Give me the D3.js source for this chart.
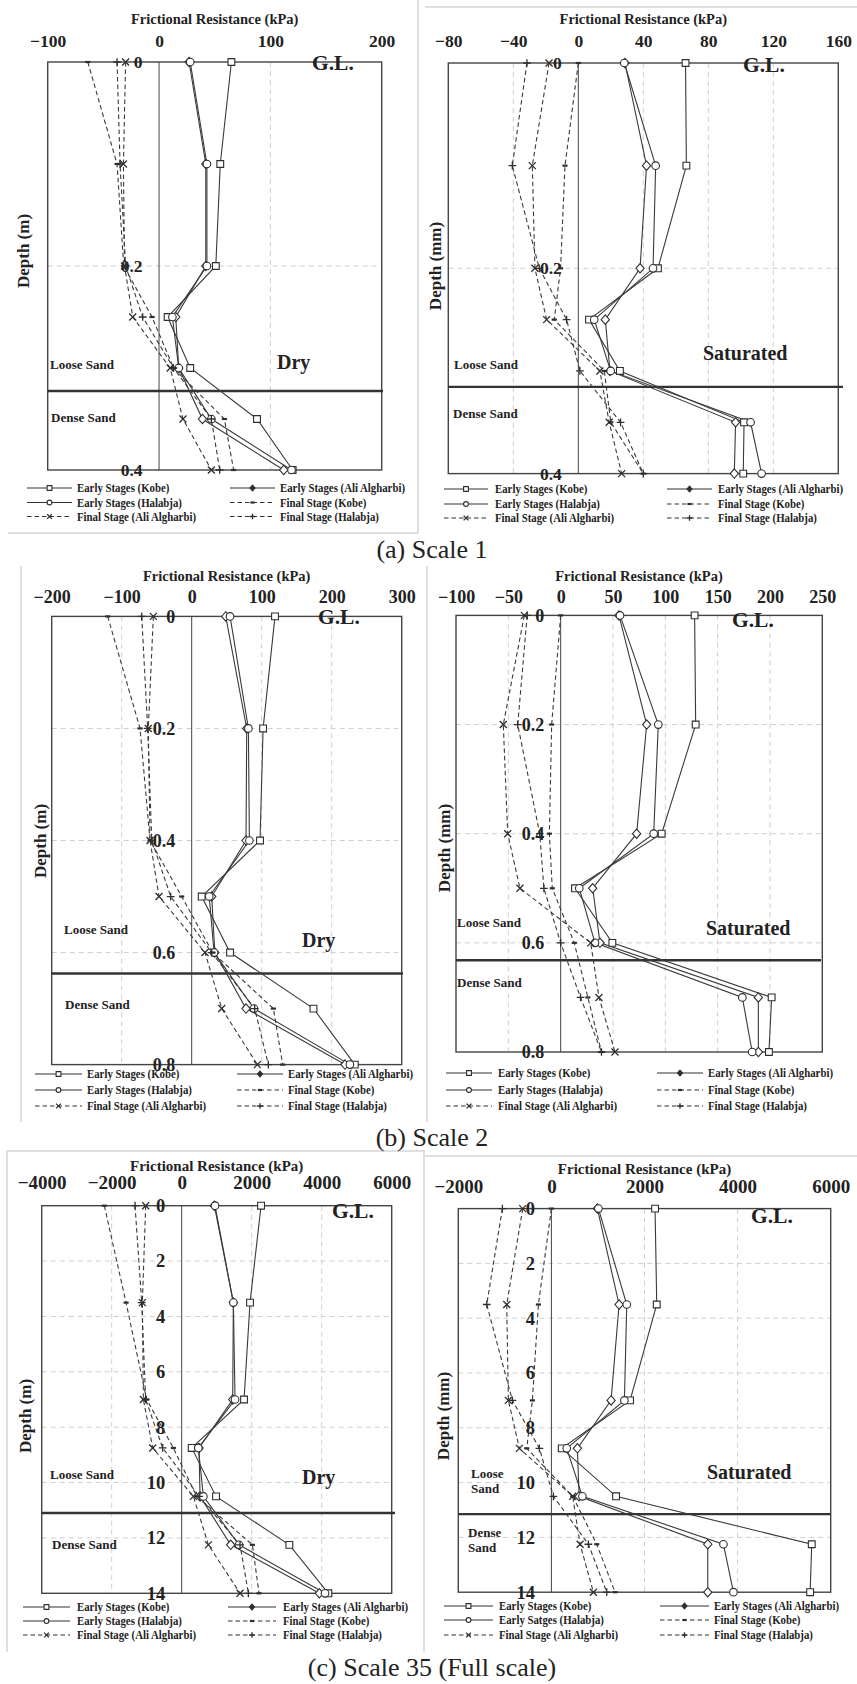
<!DOCTYPE html>
<html>
<head>
<meta charset="utf-8">
<script src="https://cdn.jsdelivr.net/npm/d3@7"></script>
<style>
  body { margin: 0; background: #fff; }
  svg { display: block; }
  text { font-family: "Liberation Serif", "Times New Roman", serif; fill: #222; }
</style>
</head>
<body>
<svg id="fig" width="857" height="1684"></svg>
<script>
// ---- depth levels (m) at which the friction was measured ----
const depthsScale1 = [0, 0.1, 0.2, 0.25, 0.3, 0.35, 0.4];
const depthsScale2 = [0, 0.2, 0.4, 0.5, 0.6, 0.7, 0.8];
const depthsScale35 = [0, 3.5, 7, 8.75, 10.5, 12.25, 14];

// ---- axis ticks ----
const xTicksDryS1 = [-100, 0, 100, 200];
const xTicksSatS1 = [-80, -40, 0, 40, 80, 120, 160];
const xTicksDryS2 = [-200, -100, 0, 100, 200, 300];
const xTicksSatS2 = [-100, -50, 0, 50, 100, 150, 200, 250];
const xTicksDryS35 = [-4000, -2000, 0, 2000, 4000, 6000];
const xTicksSatS35 = [-2000, 0, 2000, 4000, 6000];
const yTicksS1 = [0, 0.2, 0.4];
const yTicksS2 = [0, 0.2, 0.4, 0.6, 0.8];
const yTicksS35 = [0, 2, 4, 6, 8, 10, 12, 14];

// ---- frictional resistance (kPa), Scale 1, dry ----
const dryS1EarlyKobe = [65, 55, 51, 7.7, 28, 88, 120];
const dryS1EarlyAli = [27, 42, 42, 15, 17.7, 39, 112];
const dryS1EarlyHalabja = [28, 43, 43, 12, 17.7, 47, 119];
const dryS1FinalKobe = [-64, -37.7, -31.7, -6.3, 13, 58.7, 67];
const dryS1FinalAli = [-30, -32, -31, -23.6, 10, 21.5, 47];
const dryS1FinalHalabja = [-37.7, -35, -30, -14.7, 13, 47, 54.5];

// ---- Scale 1, saturated ----
const satS1EarlyKobe = [66, 66.5, 49, 6.6, 25.6, 102, 101.5];
const satS1EarlyAli = [28.7, 42, 38, 16.6, 19.5, 96.8, 96];
const satS1EarlyHalabja = [28.3, 47.6, 46, 9.8, 19.9, 106, 112.8];
const satS1FinalKobe = [0, -8.2, -10.9, -14.8, 16, 20, 40];
const satS1FinalAli = [-18, -28.3, -26.7, -19.5, 13.3, 19, 26.7];
const satS1FinalHalabja = [-31.6, -40.6, -24, -7.2, 1, 26, 40];

// ---- Scale 2, dry ----
const dryS2EarlyKobe = [119, 102, 97.6, 14.3, 54.8, 174, 233];
const dryS2EarlyAli = [48.6, 78.6, 77.6, 28.6, 33, 77.6, 219];
const dryS2EarlyHalabja = [54.8, 81, 82.4, 25, 32, 89, 226];
const dryS2FinalKobe = [-120, -73.8, -59.5, -14.3, 30, 116.7, 130];
const dryS2FinalAli = [-54.8, -62, -59.5, -46.7, 19, 42.9, 93.8];
const dryS2FinalHalabja = [-71.4, -62.9, -57, -30, 28.6, 90, 109.5];

// ---- Scale 2, saturated ----
const satS2EarlyKobe = [128, 129, 96.5, 13.7, 49.4, 201.6, 199];
const satS2EarlyAli = [55.7, 82.2, 72.6, 30.6, 37.6, 188.9, 188.9];
const satS2EarlyHalabja = [56.7, 93.3, 88.9, 17.8, 32.8, 173.6, 183];
const satS2FinalKobe = [0, -8.6, -10.8, -8, 13, 26, 39];
const satS2FinalAli = [-34.7, -54.8, -50.6, -38.9, 28.7, 36.6, 51.9];
const satS2FinalHalabja = [-32, -41, -20, -16, 0, 19, 39];

// ---- Scale 35 (full scale), dry ----
const dryS35EarlyKobe = [2267, 1952, 1781, 286, 981, 3076, 4190];
const dryS35EarlyAli = [933, 1476, 1457, 495, 524, 1400, 3933];
const dryS35EarlyHalabja = [952, 1476, 1524, 476, 619, 1638, 4095];
const dryS35FinalKobe = [-2210, -1590, -1000, -238, 430, 2019, 2210];
const dryS35FinalAli = [-1029, -1124, -1095, -829, 333, 762, 1667];
const dryS35FinalHalabja = [-1333, -1143, -1029, -543, 500, 1667, 1905];

// ---- Scale 35 (full scale), saturated ----
const satS35EarlyKobe = [2227, 2263, 1690, 222, 1389, 5593, 5558];
const satS35EarlyAli = [988, 1454, 1282, 559, 594, 3359, 3359];
const satS35EarlyHalabja = [1010, 1619, 1568, 329, 666, 3696, 3910];
const satS35FinalKobe = [0, -279, -408, -530, 458, 974, 1368];
const satS35FinalAli = [-616, -960, -924, -688, 458, 616, 902];
const satS35FinalHalabja = [-1053, -1389, -838, -258, 43, 795, 1189];

// loose/dense sand interface depth per panel
const interfaceDepths = [0.3225, 0.3155, 0.6374, 0.632, 11.1, 11.15];

const legendLabels = [
  "Early Stages (Kobe)", "Early Stages (Ali Algharbi)",
  "Early Stages (Halabja)", "Final Stage (Kobe)",
  "Final Stage (Ali Algharbi)", "Final Stage (Halabja)"
];
const legendLabelsAlt = [
  "Early Stages (Kobe)", "Early Stages (Ali Algharbi)",
  "Early Satges (Halabja)", "Final Stage (Kobe)",
  "Final Stage (Ali Algharbi)", "Final Stage (Halabja)"
];
const captions = ["(a) Scale 1", "(b) Scale 2", "(c) Scale 35 (Full scale)"];

// series styling, in legend order
const seriesStyle = [
  { marker: "square", dashed: false },
  { marker: "diamond", dashed: false },
  { marker: "circle", dashed: false },
  { marker: "dash", dashed: true },
  { marker: "cross", dashed: true },
  { marker: "plus", dashed: true }
];

const INK = "#2e2e2e";
const svg = d3.select("#fig");

function markerPath(type, s) {
  switch (type) {
    case "square": return `M${-s},${-s}H${s}V${s}H${-s}Z`;
    case "diamond": return `M0,${-s * 1.3}L${s * 1.15},0L0,${s * 1.3}L${-s * 1.15},0Z`;
    case "circle": return `M${-s},0a${s},${s} 0 1,0 ${2 * s},0a${s},${s} 0 1,0 ${-2 * s},0`;
    case "cross": return `M${-s},${-s}L${s},${s}M${-s},${s}L${s},${-s}`;
    case "plus": return `M${-s * 1.1},0H${s * 1.1}M0,${-s * 1.1}V${s * 1.1}`;
    case "dash": return `M${-s * 0.8},0H${s * 0.8}`;
  }
}

function addMarker(g, type, cx, cy, s, filled) {
  const closed = type === "square" || type === "diamond" || type === "circle";
  g.append("path")
    .attr("transform", `translate(${cx},${cy})`)
    .attr("d", markerPath(type, s))
    .attr("fill", closed ? (filled ? INK : "#fff") : "none")
    .attr("stroke", INK)
    .attr("stroke-width", type === "dash" ? 2.2 : (closed ? 1.1 : 1.3));
}

function label(g, txt, x, y, size, opts = {}) {
  return g.append("text")
    .attr("x", x).attr("y", y).attr("dy", "0.35em")
    .attr("font-size", size)
    .attr("font-weight", opts.weight || "bold")
    .attr("text-anchor", opts.anchor || "start")
    .text(txt);
}

const panels = [
  {
    depths: depthsScale1, yMax: 0.4, xDomain: [-100, 200], xTicks: xTicksDryS1, yTicks: yTicksS1,
    series: [dryS1EarlyKobe, dryS1EarlyAli, dryS1EarlyHalabja, dryS1FinalKobe, dryS1FinalAli, dryS1FinalHalabja],
    box: { l: 47.7, r: 381.7, t: 62, b: 470 }, gridX: [100], gridY: [0.2], bx2: 383,
    title: [214.7, 19], tickFont: 17.5, tickPad: 15, yFont: 17.5,
    depthTitle: ["Depth (m)", 23, 251], gl: [312, 62], cond: ["Dry", 277, 362],
    loose: [["Loose Sand"], 50, 364], dense: [["Dense Sand"], 51, 417],
    legend: { rows: [488, 502.5, 516.5], c1: [27, 72, 77], c2: [230, 275, 280] }, labels: legendLabels
  },
  {
    depths: depthsScale1, yMax: 0.4, xDomain: [-80, 160], xTicks: xTicksSatS1, yTicks: yTicksS1,
    series: [satS1EarlyKobe, satS1EarlyAli, satS1EarlyHalabja, satS1FinalKobe, satS1FinalAli, satS1FinalHalabja],
    box: { l: 448.3, r: 838.3, t: 63, b: 473.6 }, gridX: [-40, 40, 80, 120], gridY: [0.2], bx2: 843,
    title: [643.3, 19], tickFont: 17.5, tickPad: 16, yFont: 17.5,
    depthTitle: ["Depth (mm)", 435, 266], gl: [743, 64], cond: ["Saturated", 703, 353],
    loose: [["Loose Sand"], 454, 364], dense: [["Dense Sand"], 453, 413],
    legend: { rows: [489, 504, 518], c1: [444, 488, 495], c2: [667, 712, 718] }, labels: legendLabels
  },
  {
    depths: depthsScale2, yMax: 0.8, xDomain: [-200, 300], xTicks: xTicksDryS2, yTicks: yTicksS2,
    series: [dryS2EarlyKobe, dryS2EarlyAli, dryS2EarlyHalabja, dryS2FinalKobe, dryS2FinalAli, dryS2FinalHalabja],
    box: { l: 51.7, r: 401.7, t: 616.4, b: 1064.6 }, gridX: [-100, 100, 200], gridY: [0.2, 0.4, 0.6], bx2: 403,
    title: [226.7, 576], tickFont: 18, tickPad: 13.4, yFont: 18,
    depthTitle: ["Depth (m)", 40, 841], gl: [318, 616], cond: ["Dry", 302, 940],
    loose: [["Loose Sand"], 64, 929], dense: [["Dense Sand"], 65, 1004],
    legend: { rows: [1074, 1090, 1106], c1: [35, 82, 87], c2: [237, 283, 288] }, labels: legendLabels
  },
  {
    depths: depthsScale2, yMax: 0.8, xDomain: [-100, 250], xTicks: xTicksSatS2, yTicks: yTicksS2,
    series: [satS2EarlyKobe, satS2EarlyAli, satS2EarlyHalabja, satS2FinalKobe, satS2FinalAli, satS2FinalHalabja],
    box: { l: 456, r: 822.3, t: 615.4, b: 1052 }, gridX: [-50, 50, 100, 150, 200], gridY: [0.2, 0.4, 0.6], bx2: 821,
    title: [639, 576], tickFont: 18, tickPad: 12.4, yFont: 18,
    depthTitle: ["Depth (mm)", 444, 848], gl: [732, 619], cond: ["Saturated", 706, 928],
    loose: [["Loose Sand"], 457, 922], dense: [["Dense Sand"], 457, 982],
    legend: { rows: [1073, 1090, 1106], c1: [446, 492, 498], c2: [657, 703, 708] }, labels: legendLabels
  },
  {
    depths: depthsScale35, yMax: 14, xDomain: [-4000, 6000], xTicks: xTicksDryS35, yTicks: yTicksS35,
    series: [dryS35EarlyKobe, dryS35EarlyAli, dryS35EarlyHalabja, dryS35FinalKobe, dryS35FinalAli, dryS35FinalHalabja],
    box: { l: 41.7, r: 391.7, t: 1205.7, b: 1593.3 }, gridX: [-2000, 2000, 4000], gridY: [2, 4, 6, 8, 10, 12], bx2: 395,
    title: [216.7, 1166], tickFont: 19, tickPad: 17, yFont: 18.5,
    depthTitle: ["Depth (m)", 25, 1416], gl: [332, 1210], cond: ["Dry", 302, 1477],
    loose: [["Loose Sand"], 50, 1474], dense: [["Dense Sand"], 52, 1544],
    legend: { rows: [1607, 1621, 1635], c1: [23, 70, 77], c2: [228, 276, 283] }, labels: legendLabels
  },
  {
    depths: depthsScale35, yMax: 14, xDomain: [-2000, 6000], xTicks: xTicksSatS35, yTicks: yTicksS35,
    series: [satS35EarlyKobe, satS35EarlyAli, satS35EarlyHalabja, satS35FinalKobe, satS35FinalAli, satS35FinalHalabja],
    box: { l: 458.3, r: 830.7, t: 1208.6, b: 1592.2 }, gridX: [2000, 4000], gridY: [2, 4, 6, 8, 10, 12], bx2: 831,
    title: [644.5, 1169], tickFont: 19, tickPad: 16, yFont: 18.5,
    depthTitle: ["Depth (mm)", 443, 1416], gl: [751, 1215], cond: ["Saturated", 707, 1472],
    loose: [["Loose", "Sand"], 471, 1473], dense: [["Dense", "Sand"], 468, 1532],
    legend: { rows: [1606, 1620, 1635], c1: [444, 493, 499], c2: [660, 709, 714] }, labels: legendLabelsAlt
  }
];

// light frame lines around the figure tiles
const tileBorders = [
  [418, 0, 418, 533], [8, 533, 418, 533],
  [425, 7, 857, 7],
  [21, 566, 21, 1122], [427, 566, 427, 1122],
  [7, 1151, 425, 1151], [7, 1151, 7, 1652], [424, 1151, 424, 1652],
  [425, 1156, 857, 1156]
];
svg.append("g").selectAll("line").data(tileBorders).join("line")
  .attr("x1", d => d[0]).attr("y1", d => d[1]).attr("x2", d => d[2]).attr("y2", d => d[3])
  .attr("stroke", "#d6d6d6").attr("stroke-width", 1.5);

panels.forEach((p, pi) => {
  const g = svg.append("g");
  const x = d3.scaleLinear().domain(p.xDomain).range([p.box.l, p.box.r]);
  const y = d3.scaleLinear().domain([0, p.yMax]).range([p.box.t, p.box.b]);

  // dashed gridlines
  g.selectAll(".gx").data(p.gridX).join("line")
    .attr("x1", d => x(d)).attr("x2", d => x(d)).attr("y1", p.box.t).attr("y2", p.box.b)
    .attr("stroke", "#cfcfcf").attr("stroke-width", 1).attr("stroke-dasharray", "5,4");
  g.selectAll(".gy").data(p.gridY).join("line")
    .attr("x1", p.box.l).attr("x2", p.box.r).attr("y1", d => y(d)).attr("y2", d => y(d))
    .attr("stroke", "#cfcfcf").attr("stroke-width", 1).attr("stroke-dasharray", "5,4");

  // vertical axis at zero
  g.append("line").attr("x1", x(0)).attr("x2", x(0)).attr("y1", p.box.t).attr("y2", p.box.b)
    .attr("stroke", "#444").attr("stroke-width", 1);

  // plot frame
  g.append("rect").attr("x", p.box.l).attr("y", p.box.t)
    .attr("width", p.box.r - p.box.l).attr("height", p.box.b - p.box.t)
    .attr("fill", "none").attr("stroke", "#444").attr("stroke-width", 1.4);

  // x tick labels on top
  const ax = g.append("g").attr("transform", `translate(0,${p.box.t})`)
    .call(d3.axisTop(x).tickValues(p.xTicks).tickSize(0).tickPadding(p.tickPad).tickFormat(d3.format("d")));
  ax.select(".domain").remove();
  ax.selectAll("text").attr("font-size", p.tickFont).attr("font-weight", "bold")
    .attr("font-family", "Liberation Serif").attr("fill", "#222");

  // depth tick labels next to the zero axis
  const ay = g.append("g").attr("transform", `translate(${x(0)},0)`)
    .call(d3.axisLeft(y).tickValues(p.yTicks).tickSize(0).tickPadding(16.5).tickFormat(d => String(d)));
  ay.select(".domain").remove();
  ay.selectAll("text").attr("font-size", p.yFont).attr("font-weight", "bold")
    .attr("font-family", "Liberation Serif").attr("fill", "#222");

  // axis titles
  label(g, "Frictional Resistance (kPa)", p.title[0], p.title[1], pi < 4 ? 14.5 : 15, { anchor: "middle" });
  g.append("text").attr("transform", `translate(${p.depthTitle[1]},${p.depthTitle[2]}) rotate(-90)`)
    .attr("dy", "0.35em").attr("text-anchor", "middle").attr("font-size", 17).attr("font-weight", "bold")
    .text(p.depthTitle[0]);

  // annotations
  label(g, "G.L.", p.gl[0], p.gl[1], 21.5);
  label(g, p.cond[0], p.cond[1], p.cond[2], 20);
  p.loose[0].forEach((t, i) => label(g, t, p.loose[1], p.loose[2] + i * 15, 13));
  p.dense[0].forEach((t, i) => label(g, t, p.dense[1], p.dense[2] + i * 15, 13));

  // loose / dense sand interface
  g.append("line").attr("x1", p.box.l).attr("x2", p.bx2)
    .attr("y1", y(interfaceDepths[pi])).attr("y2", y(interfaceDepths[pi]))
    .attr("stroke", "#333").attr("stroke-width", 2.4);

  // series lines
  const line = d3.line().x(d => x(d[0])).y(d => y(d[1]));
  p.series.forEach((vals, si) => {
    const pts = vals.map((v, k) => [v, p.depths[k]]);
    g.append("path").attr("d", line(pts)).attr("fill", "none")
      .attr("stroke", "#3a3a3a").attr("stroke-width", 1.1)
      .attr("stroke-dasharray", seriesStyle[si].dashed ? "4.5,3" : null);
  });
  // series markers
  p.series.forEach((vals, si) => {
    const st = seriesStyle[si];
    const size = { square: 3.4, diamond: 3.6, circle: 3.8, dash: 3.2, cross: 3.5, plus: 3.5 }[st.marker];
    vals.forEach((v, k) => addMarker(g, st.marker, x(v), y(p.depths[k]), size, false));
  });

  // legend (narrow bold serif labels)
  const L = p.legend;
  p.labels.forEach((txt, i) => {
    const row = L.rows[Math.floor(i / 2)];
    const col = i % 2 === 0 ? L.c1 : L.c2;
    const st = seriesStyle[i];
    g.append("line").attr("x1", col[0]).attr("x2", col[1]).attr("y1", row).attr("y2", row)
      .attr("stroke", "#333").attr("stroke-width", 1.1)
      .attr("stroke-dasharray", st.dashed ? "4.5,3" : null);
    const mid = (col[0] + col[1]) / 2;
    const s = { square: 2.4, diamond: 2.2, circle: 2.4, dash: 2.6, cross: 2.4, plus: 2.6 }[st.marker];
    addMarker(g, st.marker, mid, row, s, st.marker === "diamond");
    g.append("text").attr("transform", `translate(${col[2]},${row}) scale(0.9,1)`)
      .attr("dy", "0.35em")
      .attr("font-size", 12).attr("font-weight", "bold").text(txt);
  });
});

// sub-figure captions
const captionY = [558, 1146, 1676];
svg.append("g").selectAll("text").data(captions).join("text")
  .attr("x", 432).attr("y", (d, i) => captionY[i]).attr("text-anchor", "middle")
  .attr("font-size", 26).attr("font-weight", "normal").text(d => d);
</script>
</body>
</html>
